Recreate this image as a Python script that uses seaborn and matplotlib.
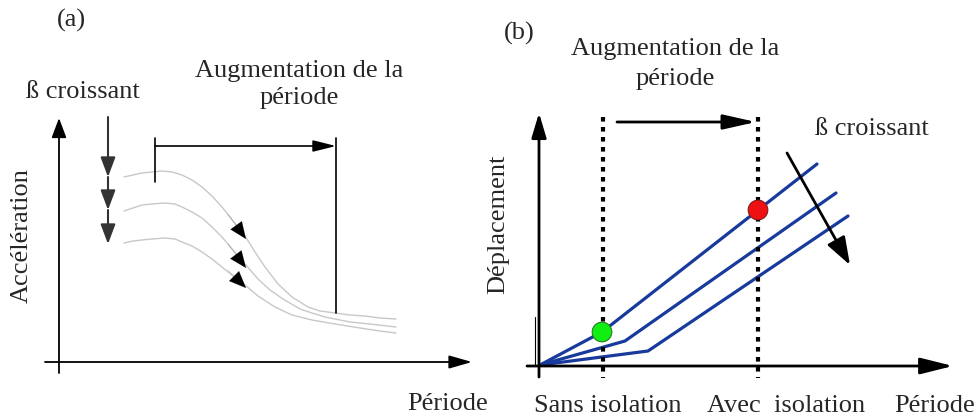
import matplotlib
matplotlib.use("Agg")
import matplotlib.pyplot as plt
import seaborn as sns
import pandas as pd

# ---------------- data (schematic) ----------------
# panel (a): acceleration spectra for increasing damping (three curves)
curve_a1_x = [124, 133, 142, 152, 162, 172, 182, 192, 202, 212, 222, 233, 245, 255, 265,
              278, 292, 300, 308, 320, 335, 350, 365, 380, 396]
curve_a1_y = [177, 175, 173, 172, 171, 172, 175, 180, 187, 196, 207, 221, 236, 252, 267,
              284, 297, 302, 307, 311, 313, 315, 316, 318, 319]
curve_a2_x = [124, 133, 142, 152, 165, 175, 182, 192, 202, 212, 222, 233, 245, 258, 270,
              283, 300, 312, 325, 350, 370, 396]
curve_a2_y = [211, 208, 205, 204, 203, 204, 207, 212, 218, 227, 237, 250, 264, 279, 290,
              299, 309, 313, 317, 322, 324, 327]
curve_a3_x = [124, 133, 142, 152, 165, 175, 182, 192, 202, 212, 222, 233, 245, 258, 275,
              292, 312, 335, 360, 380, 396]
curve_a3_y = [243, 241, 240, 239, 238, 239, 242, 246, 252, 259, 267, 276, 285, 296, 307,
              315, 320, 324, 328, 331, 333]

# panel (b): displacement spectra (three polylines from origin)
line_b1_x = [540, 602, 817]
line_b1_y = [365, 332, 164]
line_b2_x = [540, 625, 836]
line_b2_y = [365, 341, 193]
line_b3_x = [540, 648, 848]
line_b3_y = [365, 351, 216]

period_sans_isolation = 603
period_avec_isolation = 758
point_sans = (602, 332)
point_avec = (758, 210)

labels_a = {"title": "(a)", "ylabel": "Accélération", "xlabel": "Période",
            "beta": "ß croissant", "aug1": "Augmentation de la", "aug2": "période"}
labels_b = {"title": "(b)", "ylabel": "Déplacement", "xlabel": "Période",
            "beta": "ß croissant", "aug1": "Augmentation de la", "aug2": "période",
            "sans": "Sans isolation", "avec": "Avec  isolation"}

# ---------------- drawing ----------------
sns.set_theme(style="white")
plt.rcParams["font.family"] = ["Liberation Serif", "DejaVu Serif"]
FS = 19

fig = plt.figure(figsize=(9.78, 4.16), dpi=100)
ax = fig.add_axes([0, 0, 1, 1])
ax.set_xlim(0, 978)
ax.set_ylim(416, 0)
ax.axis("off")


def arrow(x0, y0, x1, y1, lw=1.2, hl=12, hw=5, color="black"):
    ms = 10
    style = f"-|>,head_length={hl / ms:.3f},head_width={hw / ms:.3f}"
    ax.annotate("", xy=(x1, y1), xytext=(x0, y0),
                arrowprops=dict(arrowstyle=style, lw=lw, color=color,
                                mutation_scale=ms, shrinkA=0, shrinkB=0))


def seg(xs, ys, **kw):
    df = pd.DataFrame({"x": xs, "y": ys})
    sns.lineplot(data=df, x="x", y="y", ax=ax, sort=False, estimator=None, **kw)


# ---- panel (a) ----
gray = "#c8c8c8"
for cx, cy in [(curve_a1_x, curve_a1_y), (curve_a2_x, curve_a2_y), (curve_a3_x, curve_a3_y)]:
    seg(cx, cy, color=gray, lw=1.0)
# small arrowheads on curves
arrow(228, 214, 246, 239, lw=0.1, hl=12, hw=5)
arrow(228, 244, 246, 268, lw=0.1, hl=12, hw=5)
arrow(228, 270, 246, 288, lw=0.1, hl=12, hw=5)

# axes
arrow(59, 373, 59, 118, lw=1.3, hl=12, hw=4.5)
arrow(45, 362, 472, 362, lw=1.3, hl=14, hw=4)

# beta arrow (three heads)
arrow(108, 117, 108, 177, lw=1.5, hl=12, hw=4.5, color="#333333")
arrow(108, 177, 108, 210, lw=1.5, hl=12, hw=4.5, color="#333333")
arrow(108, 210, 108, 244, lw=1.5, hl=12, hw=4.5, color="#333333")

# bracket
seg([155, 155], [138, 182], color="black", lw=1.2)
seg([336, 336], [138, 313], color="black", lw=1.2)
arrow(155, 146, 336, 146, lw=1.2, hl=14, hw=3.5)

ax.text(71, 27, labels_a["title"], fontsize=FS, ha="center", va="baseline")
ax.text(83, 98, labels_a["beta"], fontsize=FS, ha="center", va="baseline")
ax.text(299, 77, labels_a["aug1"], fontsize=FS, ha="center", va="baseline")
ax.text(299, 104, labels_a["aug2"], fontsize=FS, ha="center", va="baseline")
ax.text(22, 236, labels_a["ylabel"], fontsize=FS, ha="center", va="center", rotation=90)
ax.text(407, 410, labels_a["xlabel"], fontsize=FS, ha="left", va="baseline")

# ---- panel (b) ----
blue = "#173a9c"
for lx, ly in [(line_b1_x, line_b1_y), (line_b2_x, line_b2_y), (line_b3_x, line_b3_y)]:
    seg(lx, ly, color=blue, lw=2.3)

for xv in [period_sans_isolation, period_avec_isolation]:
    seg([xv, xv], [117, 378], color="black", lw=3.0, linestyle=(0, (1.1, 1.3)))

# axes
seg([535, 535], [317, 366], color="black", lw=0.8)
arrow(539, 377, 539, 113, lw=2.0, hl=15, hw=4.5)
arrow(527, 366, 953, 366, lw=2.0, hl=20, hw=5)

arrow(617, 122, 756, 122, lw=2.0, hl=20, hw=4.5)
arrow(787, 153, 850, 265, lw=2.0, hl=17, hw=6)

pts = pd.DataFrame({"x": [point_sans[0], point_avec[0]],
                    "y": [point_sans[1], point_avec[1]],
                    "kind": ["sans", "avec"]})
sns.scatterplot(data=pts, x="x", y="y", hue="kind",
                palette={"sans": "#11ee11", "avec": "#ee1111"},
                s=200, edgecolor=["#2a7a2a", "#8a1a1a"], linewidth=0.8,
                legend=False, ax=ax, zorder=5)

ax.text(519, 40, labels_b["title"], fontsize=FS, ha="center", va="baseline")
ax.text(675, 55, labels_b["aug1"], fontsize=FS, ha="center", va="baseline")
ax.text(675, 85, labels_b["aug2"], fontsize=FS, ha="center", va="baseline")
ax.text(872, 135, labels_b["beta"], fontsize=FS, ha="center", va="baseline")
ax.text(498, 224, labels_b["ylabel"], fontsize=FS, ha="center", va="center", rotation=90)
ax.text(608, 412, labels_b["sans"], fontsize=FS, ha="center", va="baseline")
ax.text(786, 412, labels_b["avec"], fontsize=FS, ha="center", va="baseline")
ax.text(935, 412, labels_b["xlabel"], fontsize=FS, ha="center", va="baseline")

fig.savefig("out.png", dpi=100)
